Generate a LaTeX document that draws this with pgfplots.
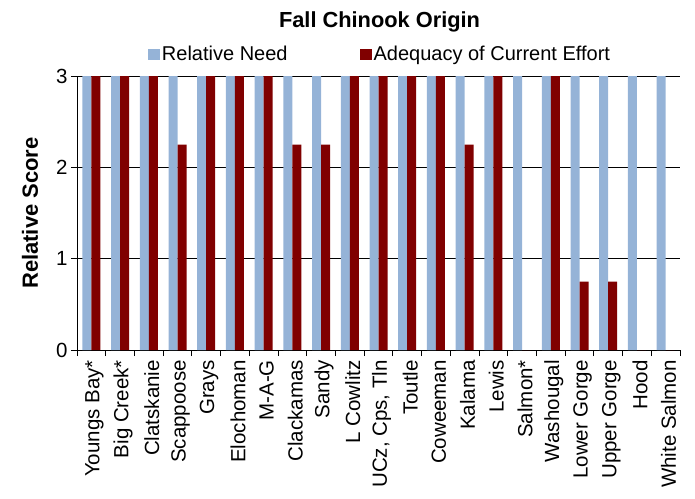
\documentclass[border=0pt]{standalone}
\usepackage{pgfplots}
\pgfplotsset{compat=1.18}
\usepackage{fontspec}
\setmainfont{Liberation Sans}
\definecolor{needblue}{HTML}{95B3D7}
\definecolor{effred}{HTML}{800000}
\pgfplotsset{sqlegend/.style={legend image code/.code={\fill[##1] (-3pt,-5.5pt) rectangle (9pt,5.5pt);}}}
\begin{document}
\begin{tikzpicture}
\path[use as bounding box] (-77pt,-148pt) rectangle (618pt,350pt);
\begin{axis}[
  at={(0,0)}, anchor=south west,
  scale only axis, width=603pt, height=274pt,
  xmin=-0.5, xmax=20.5, ymin=0, ymax=3,
  ytick={0,1,2,3},
  ymajorgrids, major grid style={black, line width=0.8pt},
  axis x line*=bottom, axis y line*=left,
  axis line style={black, line width=0.8pt},
  tick style={black, line width=0.8pt},
  tick align=outside, major tick length=6pt,
  xtick={-0.5,0.5,...,20.5},
  x tick label as interval,
  xticklabels={Youngs Bay*,Big Creek*,Clatskanie,Scappoose,Grays,Elochoman,M-A-G,Clackamas,Sandy,L Cowlitz,{UCz, Cps, Tln},Toutle,Coweeman,Kalama,Lewis,Salmon*,Washougal,Lower Gorge,Upper Gorge,Hood,White Salmon},
  x tick label style={rotate=90, anchor=east, font=\fontsize{20.5}{24}\selectfont, inner sep=1pt, xshift=-3pt, yshift=-3pt},
  y tick label style={font=\fontsize{20.5}{24}\selectfont},
  /pgf/number format/assume math mode=true,
  ylabel={\bfseries Relative Score},
  ylabel style={at={(axis description cs:-0.078,0.5)}, anchor=center, font=\fontsize{22}{26}\selectfont},
  title={\bfseries Fall Chinook Origin},
  title style={at={(axis description cs:0.5017,1.1533)}, anchor=base, font=\fontsize{21.8}{26}\selectfont},
  legend columns=2,
  legend style={draw=none, at={(axis description cs:0.5025,1.079)}, anchor=center,
    font=\fontsize{20}{24}\selectfont,
    /tikz/every even column/.append style={column sep=70pt},
    /tikz/every odd column/.append style={column sep=0pt}},
]
\addplot[ybar, fill=needblue, draw=none, bar width=9pt, bar shift=-4.5pt, sqlegend]
  coordinates {(0,3) (1,3) (2,3) (3,3) (4,3) (5,3) (6,3) (7,3) (8,3) (9,3)
   (10,3) (11,3) (12,3) (13,3) (14,3) (15,3) (16,3) (17,3) (18,3) (19,3) (20,3)};
\addlegendentry{Relative Need}
\addplot[ybar, fill=effred, draw=none, bar width=9pt, bar shift=4.5pt, sqlegend]
  coordinates {(0,3) (1,3) (2,3) (3,2.25) (4,3) (5,3) (6,3) (7,2.25) (8,2.25) (9,3)
   (10,3) (11,3) (12,3) (13,2.25) (14,3) (15,0) (16,3) (17,0.75) (18,0.75) (19,0) (20,0)};
\addlegendentry{Adequacy of Current Effort}
\end{axis}
\end{tikzpicture}
\end{document}
